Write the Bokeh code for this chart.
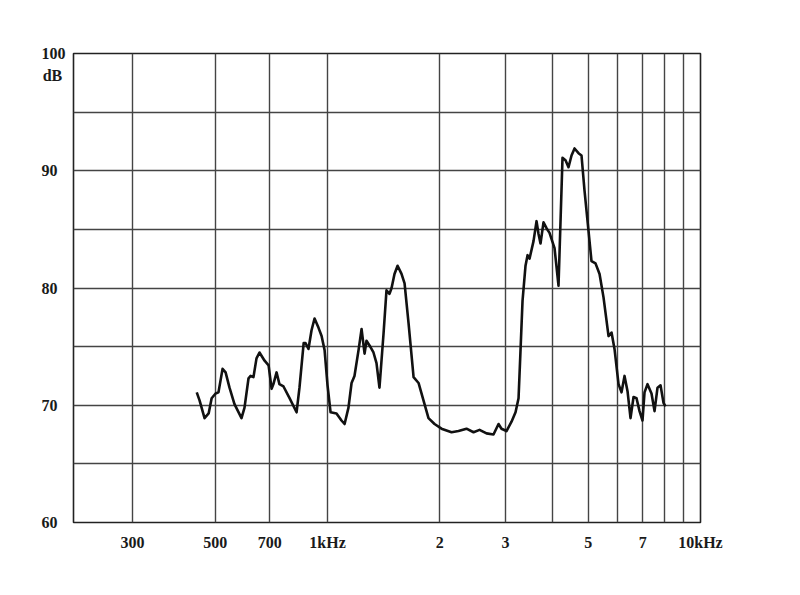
from bokeh.plotting import figure
from bokeh.models import FixedTicker, Range1d
from bokeh.embed import file_html
from bokeh.resources import INLINE

# Frequency response (Hz, dB)
freq_hz = [446, 454, 468, 480, 489, 501, 510, 523, 533, 546,
           563, 588, 599, 614, 622, 633, 645, 657, 678, 695,
           708, 716, 730, 743, 762, 791, 826, 841, 863, 873,
           889, 906, 923, 946, 964, 982, 1000, 1019, 1057, 1090,
           1111, 1138, 1160, 1181, 1211, 1234, 1257, 1272, 1296, 1328,
           1353, 1378, 1413, 1439, 1466, 1485, 1512, 1541, 1579, 1609,
           1649, 1701, 1754, 1809, 1865, 1936, 2021, 2150, 2245, 2358,
           2463, 2556, 2669, 2786, 2874, 2927, 3019, 3114, 3192, 3252,
           3292, 3333, 3395, 3438, 3480, 3567, 3634, 3679, 3724, 3794,
           3865, 3937, 4061, 4162, 4214, 4266, 4346, 4427, 4510, 4595,
           4709, 4797, 4887, 5008, 5102, 5230, 5362, 5495, 5668, 5774,
           5881, 6029, 6141, 6256, 6373, 6492, 6614, 6737, 6863, 6991,
           7078, 7210, 7390, 7529, 7669, 7813, 7958, 8057]
level_db = [71.1, 70.4, 68.9, 69.3, 70.6, 71.0, 71.1, 73.1, 72.8, 71.5,
            70.1, 68.9, 69.8, 72.3, 72.5, 72.4, 74.0, 74.5, 73.8, 73.4,
            71.4, 71.8, 72.8, 71.8, 71.6, 70.6, 69.4, 71.5, 75.3, 75.3,
            74.8, 76.4, 77.4, 76.6, 75.9, 74.7, 71.7, 69.4, 69.3, 68.7,
            68.4, 69.8, 71.9, 72.5, 74.7, 76.5, 74.4, 75.5, 75.1, 74.5,
            73.6, 71.5, 76.1, 79.8, 79.5, 80.0, 81.2, 81.9, 81.2, 80.4,
            77.0, 72.4, 71.9, 70.4, 68.9, 68.4, 68.0, 67.7, 67.8, 68.0,
            67.7, 67.9, 67.6, 67.5, 68.4, 68.0, 67.8, 68.6, 69.4, 70.6,
            74.7, 78.9, 81.9, 82.8, 82.5, 84.0, 85.7, 84.6, 83.8, 85.6,
            85.1, 84.7, 83.4, 80.2, 85.7, 91.1, 90.9, 90.3, 91.3, 91.9,
            91.5, 91.3, 88.3, 84.9, 82.3, 82.1, 81.2, 79.2, 75.9, 76.2,
            74.8, 71.8, 71.1, 72.5, 71.2, 68.9, 70.7, 70.6, 69.5, 68.7,
            71.1, 71.8, 71.0, 69.5, 71.5, 71.7, 70.2, 69.9]

x_tick_values = [300, 500, 700, 1000, 2000, 3000, 5000, 7000, 10000]
x_tick_labels = ["300", "500", "700", "1kHz", "2", "3", "5", "7", "10kHz"]
x_grid_values = [300, 500, 700, 1000, 2000, 3000, 4000, 5000, 6000, 7000, 8000, 9000, 10000]
# y tick labels; the unit "dB" sits just under the 100 label
y_tick_values = [60, 70, 80, 90, 98.1, 100]
y_tick_labels = ["60\u2007", "70\u2007", "80\u2007", "90\u2007", "dB\u2009", "100"]
y_grid_values = [60, 65, 70, 75, 80, 85, 90, 95, 100]

FONT = "Liberation Serif"

p = figure(width=784, height=579, x_axis_type="log",
           x_range=Range1d(208.4, 10000), y_range=Range1d(60, 100),
           output_backend="svg", toolbar_location=None,
           min_border_left=73, min_border_right=84,
           min_border_top=53, min_border_bottom=57)

p.background_fill_color = "white"
p.border_fill_color = "white"
p.outline_line_color = "#222222"
p.outline_line_width = 1.6

for ax in (p.xaxis[0], p.yaxis[0]):
    ax.axis_line_color = None
    ax.major_tick_line_color = None
    ax.minor_tick_line_color = None
    ax.major_tick_out = 0
    ax.major_tick_in = 0
    ax.minor_tick_out = 0
    ax.minor_tick_in = 0
    ax.major_label_text_font = FONT
    ax.major_label_text_font_style = "bold"
    ax.major_label_text_font_size = "16px"
    ax.major_label_text_color = "#1a1a1a"

p.xaxis.ticker = FixedTicker(ticks=x_tick_values)
p.xaxis.major_label_overrides = {v: s for v, s in zip(x_tick_values, x_tick_labels)}
p.xaxis.major_label_standoff = 11
p.yaxis.ticker = FixedTicker(ticks=y_tick_values)
p.yaxis.major_label_overrides = {v: s for v, s in zip(y_tick_values, y_tick_labels)}
p.yaxis.major_label_standoff = 8

p.xgrid.ticker = FixedTicker(ticks=x_grid_values)
p.ygrid.ticker = FixedTicker(ticks=y_grid_values)
for g in (p.xgrid[0], p.ygrid[0]):
    g.grid_line_color = "#444444"
    g.grid_line_width = 1.4
    g.grid_line_alpha = 1.0

p.line(freq_hz, level_db, line_color="#111111", line_width=2.6, line_join="round")

open("out.html", "w").write(file_html(p, INLINE))
